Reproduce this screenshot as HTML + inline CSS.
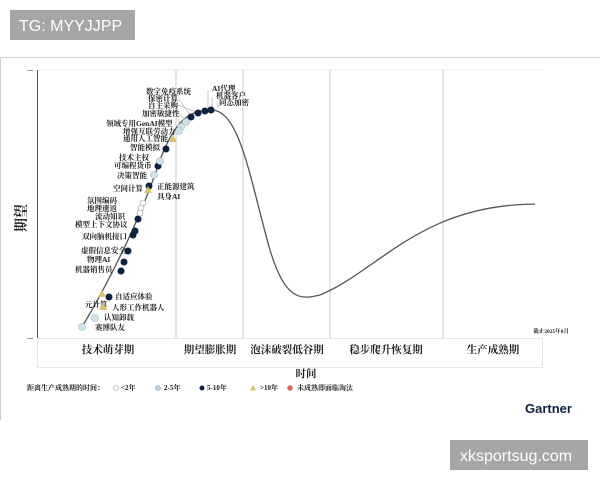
<!DOCTYPE html>
<html><head><meta charset="utf-8"><style>
html,body{margin:0;padding:0;background:#fff;width:600px;height:480px;overflow:hidden}
svg{display:block}
.l{font-family:"Liberation Serif","Noto Serif CJK SC",serif;font-size:7.5px;font-weight:bold;fill:#222}
.p{font-family:"Liberation Serif","Noto Serif CJK SC",serif;font-size:10.5px;font-weight:bold;fill:#222}
</style></head><body>
<svg width="600" height="480" viewBox="0 0 600 480" xmlns="http://www.w3.org/2000/svg">
<rect x="10" y="10" width="125" height="30" fill="#a6a6a6"/>
<text x="19" y="31" font-family="Liberation Sans,sans-serif" font-size="16" fill="#fff">TG: MYYJJPP</text>
<line x1="0" y1="57.5" x2="600" y2="57.5" stroke="#ccc"/>
<line x1="0.5" y1="57" x2="0.5" y2="420" stroke="#ccc"/>
<line x1="27" y1="70.5" x2="33" y2="70.5" stroke="#999"/>
<line x1="37" y1="70" x2="543" y2="70" stroke="#eee"/>
<line x1="37.5" y1="70" x2="37.5" y2="338" stroke="#555"/>
<line x1="37" y1="338.5" x2="543" y2="338.5" stroke="#777"/>
<line x1="27" y1="338.5" x2="33" y2="338.5" stroke="#999"/>
<g stroke="#ccc"><line x1="176" y1="70" x2="176" y2="338"/><line x1="243" y1="70" x2="243" y2="338"/><line x1="330" y1="70" x2="330" y2="338"/><line x1="443" y1="70" x2="443" y2="338"/></g>
<rect x="37.5" y="338.5" width="505" height="29" fill="none" stroke="#e6e6e6"/>
<text x="26" y="218" class="p" font-size="14" transform="rotate(-90 26 218)" text-anchor="middle" style="font-size:14px">期望</text>
<path d="M82,327 C110,280 140,220 160,160 C175,120 190,110 210,110 C240,108 250,180 270,250 C285,300 300,300 320,295 C380,270 420,205 535,204" fill="none" stroke="#555" stroke-width="1.3"/>
<g class="p" text-anchor="middle">
<text x="108" y="353">技术萌芽期</text><text x="210" y="353">期望膨胀期</text><text x="287" y="353">泡沫破裂低谷期</text><text x="386" y="353">稳步爬升恢复期</text><text x="493" y="353">生产成熟期</text>
<text x="306" y="377">时间</text></g>
<text x="569" y="333" class="l" style="font-size:5.5px" text-anchor="end">截止2025年8月</text>
<g class="l" style="font-size:7px">
<text x="27" y="390">距离生产成熟期的时间：</text>
<circle cx="116" cy="388" r="2.5" fill="#fff" stroke="#aaa" stroke-width=".6"/><text x="121" y="390">&lt;2年</text>
<circle cx="158" cy="388" r="2.5" fill="#bcd3df" stroke="#9ab" stroke-width=".6"/><text x="164" y="390">2-5年</text>
<circle cx="202" cy="388" r="2.5" fill="#0e2240"/><text x="207" y="390">5-10年</text>
<path d="M253,385 L256,390.5 L250,390.5Z" fill="#d9c36a"/><text x="260" y="390">&gt;10年</text>
<circle cx="290" cy="388" r="2.7" fill="#e06060"/><text x="297" y="390">未成熟即面临淘汰</text></g>
<text x="525" y="413" font-family="Liberation Sans,sans-serif" font-weight="bold" font-size="13" fill="#0e2240">Gartner</text>
<g fill="none" stroke="#888" stroke-width=".5">
<path d="M178,98 L190,115"/><path d="M178,105 L196,112"/><path d="M178,112 L185,120"/><path d="M178,119 L180,125"/><path d="M208,90 L208,108"/><path d="M212,97 L212,108"/><path d="M218,103 L218,108"/>
</g>
<g class="l">
<text x="146" y="94">数字免疫系统</text><text x="148" y="101">保密计算</text><text x="148" y="108">自主采购</text><text x="142" y="116">加密敏捷性</text>
<text x="106" y="126">领域专用GenAI模型</text><text x="123" y="134">增强互联劳动力</text><text x="123" y="141">通用人工智能</text>
<text x="130" y="150">智能模拟</text><text x="119" y="160">技术主权</text><text x="114" y="168">可编程货币</text><text x="117" y="178">决策智能</text>
<text x="113" y="191">空间计算</text><text x="157" y="189">正能源建筑</text><text x="157" y="199">具身AI</text>
<text x="87" y="203">氛围编码</text><text x="87" y="211">地理遗返</text><text x="95" y="219">流动知识</text><text x="75" y="227">模型上下文协议</text>
<text x="82" y="239">双向脑机接口</text><text x="81" y="253">虚假信息安全</text><text x="87" y="262">物理AI</text><text x="75" y="272">机器销售员</text>
<text x="115" y="299">自适应体验</text><text x="85" y="307">元计算</text><text x="112" y="310">人形工作机器人</text><text x="104" y="320">认知卸载</text><text x="95" y="330">赛博队友</text>
<text x="212" y="91">AI代理</text><text x="216" y="98">机器客户</text><text x="219" y="105">同态加密</text>
</g>
<g fill="#0e2240">
<circle cx="191" cy="117" r="3.5"/><circle cx="198" cy="113" r="3.5"/><circle cx="205" cy="111" r="3.5"/><circle cx="211" cy="110" r="3.5"/>
<circle cx="166" cy="149" r="3.5"/><circle cx="158" cy="166" r="3.5"/><circle cx="149" cy="186" r="3.5"/>
<circle cx="138" cy="219" r="3.5"/><circle cx="135" cy="231" r="3.5"/><circle cx="133" cy="235" r="3.5"/><circle cx="128" cy="251" r="3.5"/><circle cx="124" cy="262" r="3.5"/><circle cx="121" cy="271" r="3.5"/><circle cx="109" cy="297" r="3.5"/>
</g>
<g fill="#d2e2ea" stroke="#9bb" stroke-width=".6">
<circle cx="186" cy="122" r="3.5"/><circle cx="181" cy="127" r="3.5"/><circle cx="179" cy="131" r="3.5"/><circle cx="160" cy="161" r="3.5"/><circle cx="154" cy="175" r="3.5"/><circle cx="95" cy="318" r="3.5"/><circle cx="82" cy="327" r="3.5"/>
</g>
<g fill="#fff" stroke="#999" stroke-width=".6"><circle cx="143" cy="203" r="3"/><circle cx="141" cy="208" r="3"/><circle cx="140" cy="213" r="3"/></g>
<g fill="#d9c36a"><path d="M173,135 L177,142 L169,142Z"/><path d="M148,186 L152,193 L144,193Z"/><path d="M102,290 L106,297 L98,297Z"/><path d="M103,303 L107,310 L99,310Z"/></g>
<rect x="450" y="440" width="138" height="30" fill="#a6a6a6"/>
<text x="460" y="461" font-family="Liberation Sans,sans-serif" font-size="16" fill="#fff">xksportsug.com</text>
</svg>
</body></html>
